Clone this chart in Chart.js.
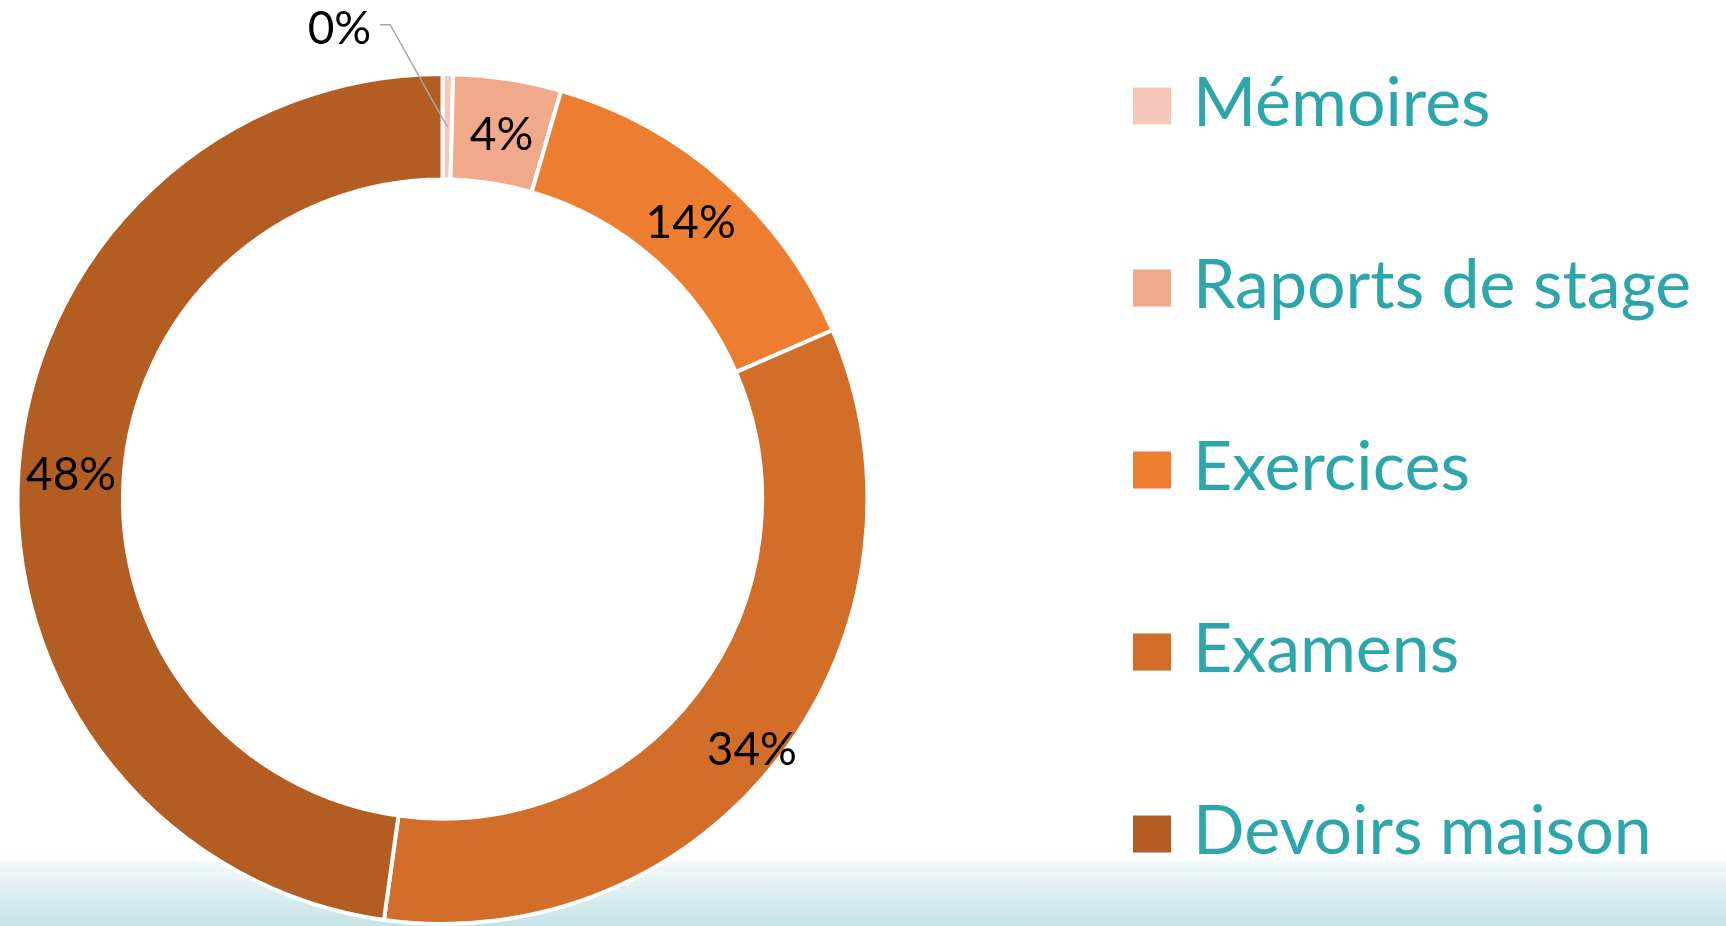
<!DOCTYPE html>
<html><head><meta charset="utf-8">
<script src="https://cdn.jsdelivr.net/npm/chart.js@4/dist/chart.umd.min.js"></script>
<style>
html,body{margin:0;padding:0;width:1726px;height:926px;overflow:hidden;
background:linear-gradient(to bottom,#ffffff 0px,#ffffff 860px,#f3f9fa 861px,#c4e3e7 926px);}
canvas{display:block;}
</style></head><body>
<canvas id="c" width="1726" height="926"></canvas>
<script>
// ---- data ----
const categories = ['Mémoires', 'Raports de stage', 'Exercices', 'Examens', 'Devoirs maison'];
const shares = [0.4, 4.1, 14.0, 33.7, 47.8];
const sliceColors = ['#f5c8b9', '#f0a98b', '#ed7d31', '#d26d2a', '#b35d22'];

// ---- styling / placement (not data) ----
const LABEL_SIZE = 46;
const LABEL_FONT = LABEL_SIZE + 'px Lato';
const LEGEND_FONT = '68px Lato';
const LEGEND_COLOR = '#2ca6ab';
const labelShift = [[-57, -102], [2, 2], [2, 2], [13, 24], [0, 0]];

const pctLabelPlugin = {
  id: 'pctLabels',
  afterDatasetsDraw(chart) {
    const ctx = chart.ctx;
    const meta = chart.getDatasetMeta(0);
    const data = chart.data.datasets[0].data;
    ctx.save();
    ctx.font = LABEL_FONT;
    ctx.fillStyle = '#000';
    ctx.textBaseline = 'alphabetic';
    const digitHalf = LABEL_SIZE * 0.72 / 2;
    meta.data.forEach((arc, i) => {
      const p = arc.getProps(['x', 'y', 'startAngle', 'endAngle', 'innerRadius', 'outerRadius'], true);
      const mid = (p.startAngle + p.endAngle) / 2;
      const r = (p.innerRadius + p.outerRadius) / 2;
      const ax = p.x + Math.cos(mid) * r;
      const ay = p.y + Math.sin(mid) * r;
      const txt = Math.round(data[i]) + '%';
      if (data[i] < 1) {
        const ex = ax + labelShift[i][0], ey = ay + labelShift[i][1];
        ctx.strokeStyle = '#a6a6a6';
        ctx.lineWidth = 1.5;
        ctx.beginPath();
        ctx.moveTo(ax, ay);
        ctx.lineTo(ex, ey);
        ctx.lineTo(ex - 10, ey);
        ctx.stroke();
        ctx.textAlign = 'right';
        ctx.fillText(txt, ex - 19, ey + 3 + digitHalf);
      } else {
        ctx.textAlign = 'center';
        ctx.fillText(txt, ax + labelShift[i][0], ay + labelShift[i][1] + digitHalf);
      }
    });
    ctx.restore();
  }
};

const sideLegendPlugin = {
  id: 'sideLegend',
  afterDraw(chart) {
    const ctx = chart.ctx;
    const ds = chart.data.datasets[0];
    ctx.save();
    ctx.font = LEGEND_FONT;
    ctx.textAlign = 'left';
    ctx.textBaseline = 'alphabetic';
    chart.data.labels.forEach((lab, i) => {
      const cy = 106 + i * 182;
      ctx.fillStyle = ds.backgroundColor[i];
      ctx.fillRect(1133, cy - 18.5, 38, 37);
      ctx.fillStyle = LEGEND_COLOR;
      ctx.fillText(lab, 1193, cy + 20);
    });
    ctx.restore();
  }
};

new Chart(document.getElementById('c'), {
  type: 'doughnut',
  data: {
    labels: categories,
    datasets: [{
      data: shares,
      backgroundColor: sliceColors,
      borderColor: '#ffffff',
      borderWidth: 4
    }]
  },
  options: {
    responsive: false,
    animation: false,
    cutout: '75.2%',
    layout: { padding: { left: 13.5, right: 854.5, top: 72, bottom: -4 } },
    plugins: {
      legend: { display: false },
      tooltip: { enabled: false }
    }
  },
  plugins: [pctLabelPlugin, sideLegendPlugin]
});
</script>
</body></html>
